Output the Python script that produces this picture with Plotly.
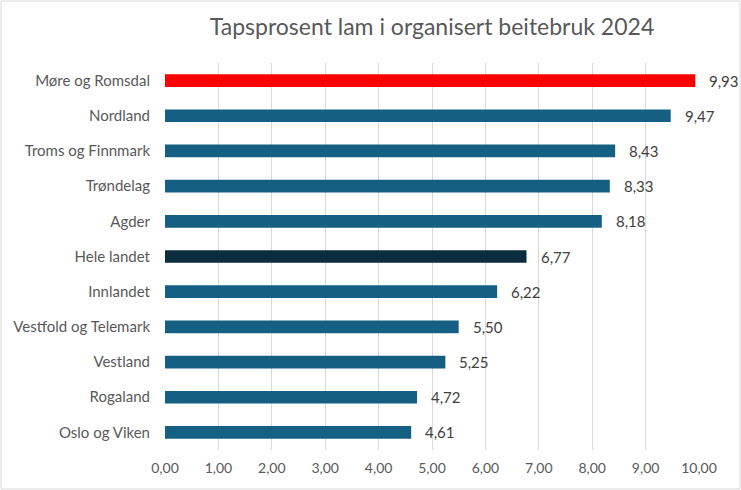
import plotly.graph_objects as go

regions = ["Møre og Romsdal", "Nordland", "Troms og Finnmark", "Trøndelag", "Agder",
           "Hele landet", "Innlandet", "Vestfold og Telemark", "Vestland", "Rogaland",
           "Oslo og Viken"]
loss_pct = [9.93, 9.47, 8.43, 8.33, 8.18, 6.77, 6.22, 5.50, 5.25, 4.72, 4.61]
bar_colors = ["#FF0000", "#156082", "#156082", "#156082", "#156082", "#0C2D3E",
              "#156082", "#156082", "#156082", "#156082", "#156082"]

W, H = 741, 490
ml, mr, mt, mb = 165, 42, 63, 40
font = "Lato, Noto Sans, sans-serif"
grey = "#595959"

fig = go.Figure(go.Bar(
    x=loss_pct, y=regions, orientation="h",
    marker=dict(color=bar_colors, line=dict(width=0)),
    width=0.36, hoverinfo="skip",
))

for r, v in zip(regions, loss_pct):
    fig.add_annotation(x=v, y=r, text=f"{v:.2f}".replace(".", ","),
                       showarrow=False, xanchor="left", xshift=12,
                       font=dict(size=15, color="#404040", family=font))

# light frame round the whole chart
pw = W - ml - mr
ph = H - mt - mb
fig.add_shape(type="rect", xref="paper", yref="paper",
              x0=-(ml - 1) / pw, x1=1 + (mr - 1) / pw,
              y0=-(mb - 1) / ph, y1=1 + (mt - 1) / ph,
              line=dict(color="#D9D9D9", width=1))

fig.update_layout(
    width=W, height=H,
    margin=dict(l=ml, r=mr, t=mt, b=mb),
    paper_bgcolor="white", plot_bgcolor="white",
    separators=", ",
    showlegend=False,
    title=dict(text="Tapsprosent lam i organisert beitebruk 2024", x=0.5, xref="paper",
               y=1 - 27 / H, yanchor="middle",
               font=dict(size=23, color=grey, family=font)),
    xaxis=dict(range=[0, 10], dtick=1, tickformat=".2f", showgrid=True,
               gridcolor="#D9D9D9", gridwidth=1, zeroline=False,
               tickfont=dict(size=14, color=grey, family=font), ticks="",
               ticklabelstandoff=8, showline=False),
    yaxis=dict(autorange="reversed", tickfont=dict(size=15, color=grey, family=font),
               ticks="", ticklabelstandoff=14, showgrid=False, showline=False),
)

fig.write_html("out.html", config={"displayModeBar": False},
               post_script="document.body.style.margin='0';")
